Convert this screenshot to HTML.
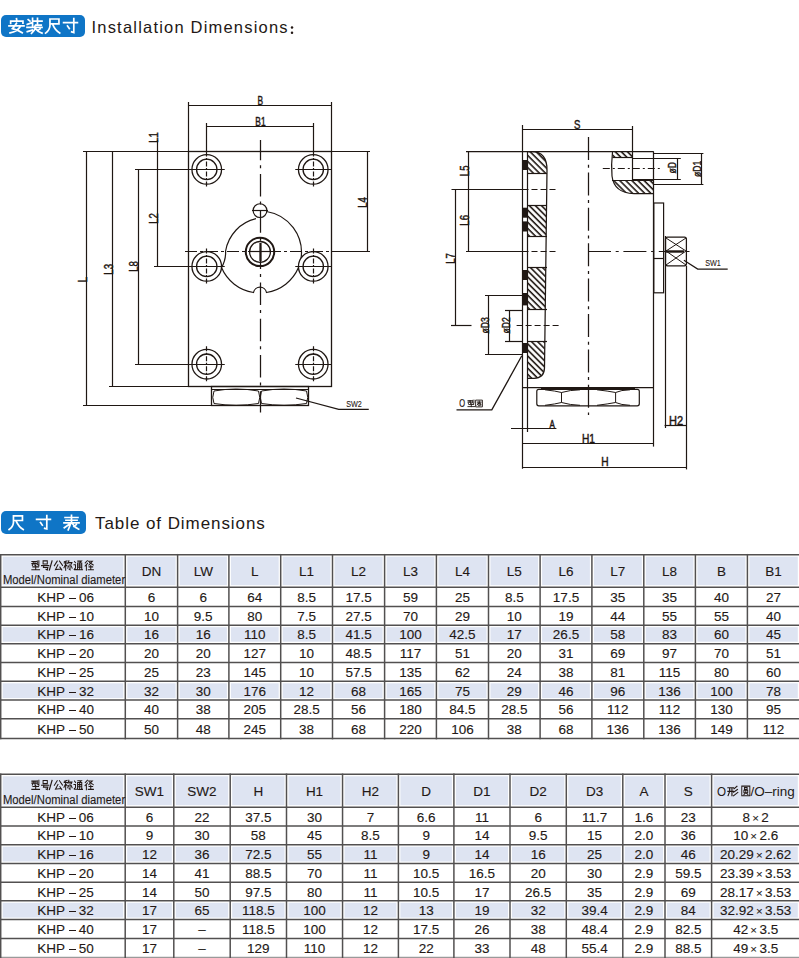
<!DOCTYPE html><html><head><meta charset="utf-8"><style>
html,body{margin:0;padding:0;background:#fff;width:799px;height:958px;overflow:hidden;position:relative}
body{font-family:"Liberation Sans",sans-serif;color:#231815;font-size:13.5px}
.tb{-webkit-text-stroke:0.12px #231815}
.tb div{white-space:nowrap}
</style></head><body>
<svg style="position:absolute;left:0;top:0" width="799" height="500" viewBox="0 0 799 500" stroke="#1f1713" fill="none">
<rect x="188.5" y="151.5" width="143" height="235" fill="none" stroke-width="1.3"/>
<line x1="83" y1="151.5" x2="188.75" y2="151.5" stroke-width="1.2"/>
<line x1="331" y1="151.5" x2="370" y2="151.5" stroke-width="1.2"/>
<line x1="86.5" y1="152" x2="86.5" y2="405.5" stroke-width="1.2"/>
<line x1="83" y1="405.5" x2="211.5" y2="405.5" stroke-width="1.2"/>
<line x1="112.5" y1="152" x2="112.5" y2="386.6" stroke-width="1.2"/>
<line x1="109" y1="386.5" x2="188.75" y2="386.5" stroke-width="1.2"/>
<line x1="138.5" y1="169.4" x2="138.5" y2="364.2" stroke-width="1.2"/>
<line x1="135" y1="169.5" x2="189" y2="169.5" stroke-width="1.2"/>
<line x1="135" y1="364.5" x2="189" y2="364.5" stroke-width="1.2"/>
<line x1="157.5" y1="140" x2="157.5" y2="266.5" stroke-width="1.2"/>
<line x1="154" y1="266.5" x2="189" y2="266.5" stroke-width="1.2"/>
<line x1="188.75" y1="105.5" x2="331" y2="105.5" stroke-width="1.2"/>
<line x1="188.5" y1="102" x2="188.5" y2="151.6" stroke-width="1.2"/>
<line x1="331.5" y1="102" x2="331.5" y2="151.6" stroke-width="1.2"/>
<line x1="206.75" y1="126.5" x2="313.25" y2="126.5" stroke-width="1.2"/>
<line x1="206.5" y1="123" x2="206.5" y2="152" stroke-width="1.2"/>
<line x1="313.5" y1="123" x2="313.5" y2="152" stroke-width="1.2"/>
<line x1="367.5" y1="152" x2="367.5" y2="251.5" stroke-width="1.2"/>
<line x1="331" y1="251.5" x2="370" y2="251.5" stroke-width="1.2"/>
<circle cx="206.75" cy="169.4" r="14.8" fill="none" stroke-width="1.3"/>
<circle cx="206.75" cy="169.4" r="10.2" fill="none" stroke-width="1.3"/>
<line x1="188.75" y1="169.5" x2="224.75" y2="169.5" stroke-width="1.2"/>
<line x1="206.5" y1="151.4" x2="206.5" y2="187.4" stroke-width="1.2" stroke-dasharray="5 1.5 2 1.5"/>
<circle cx="206.75" cy="266.4" r="14.8" fill="none" stroke-width="1.3"/>
<circle cx="206.75" cy="266.4" r="10.2" fill="none" stroke-width="1.3"/>
<line x1="188.75" y1="266.5" x2="224.75" y2="266.5" stroke-width="1.2"/>
<line x1="206.5" y1="248.39999999999998" x2="206.5" y2="284.4" stroke-width="1.2" stroke-dasharray="5 1.5 2 1.5"/>
<circle cx="206.75" cy="364.2" r="14.8" fill="none" stroke-width="1.3"/>
<circle cx="206.75" cy="364.2" r="10.2" fill="none" stroke-width="1.3"/>
<line x1="188.75" y1="364.5" x2="224.75" y2="364.5" stroke-width="1.2"/>
<line x1="206.5" y1="346.2" x2="206.5" y2="382.2" stroke-width="1.2" stroke-dasharray="5 1.5 2 1.5"/>
<circle cx="313.25" cy="169.4" r="14.8" fill="none" stroke-width="1.3"/>
<circle cx="313.25" cy="169.4" r="10.2" fill="none" stroke-width="1.3"/>
<line x1="295.25" y1="169.5" x2="331.25" y2="169.5" stroke-width="1.2"/>
<line x1="313.5" y1="151.4" x2="313.5" y2="187.4" stroke-width="1.2" stroke-dasharray="5 1.5 2 1.5"/>
<circle cx="313.25" cy="266.4" r="14.8" fill="none" stroke-width="1.3"/>
<circle cx="313.25" cy="266.4" r="10.2" fill="none" stroke-width="1.3"/>
<line x1="295.25" y1="266.5" x2="331.25" y2="266.5" stroke-width="1.2"/>
<line x1="313.5" y1="248.39999999999998" x2="313.5" y2="284.4" stroke-width="1.2" stroke-dasharray="5 1.5 2 1.5"/>
<circle cx="313.25" cy="364.2" r="14.8" fill="none" stroke-width="1.3"/>
<circle cx="313.25" cy="364.2" r="10.2" fill="none" stroke-width="1.3"/>
<line x1="295.25" y1="364.5" x2="331.25" y2="364.5" stroke-width="1.2"/>
<line x1="313.5" y1="346.2" x2="313.5" y2="382.2" stroke-width="1.2" stroke-dasharray="5 1.5 2 1.5"/>
<line x1="260.5" y1="140" x2="260.5" y2="412.5" stroke-width="1.25" stroke-dasharray="22.5 5 3 5.7" stroke-dashoffset="2.2"/>
<line x1="185" y1="251.5" x2="331" y2="251.5" stroke-width="1.2" stroke-dasharray="12 3 3 3"/>
<path d="M266.5 211.5 A41.5 41.5 0 0 1 301.1 258 M298.5 267.6 A41.5 41.5 0 0 1 266.5 292.5 A6.6 6.6 0 0 0 253.5 292.5 A41.5 41.5 0 0 1 221.5 267.6 Q226 260 225.6 251 A40 40 0 0 1 256 218.7" fill="none" stroke-width="1.2"/>
<circle cx="260" cy="210.6" r="6.9" fill="none" stroke-width="1.15"/>
<line x1="252" y1="210.5" x2="268" y2="210.5" stroke-width="1.2"/>
<circle cx="260" cy="251.9" r="14.2" fill="none" stroke-width="2.0"/>
<circle cx="260" cy="251.9" r="10.4" fill="none" stroke-width="1.3"/>
<line x1="260.5" y1="243" x2="260.5" y2="261" stroke-width="2.2"/>
<line x1="249" y1="251.5" x2="271" y2="251.5" stroke-width="1.2"/>
<rect x="211.5" y="386.5" width="97" height="19" fill="none" stroke-width="1.3"/>
<line x1="211.5" y1="389.5" x2="308.75" y2="389.5" stroke-width="1.2"/>
<path d="M214 391 Q236 387 258.5 391 Q261 397.5 258.5 403.5 Q236 407 214 403.5 Q211.5 397.5 214 391 Z M261.5 391 Q284 387 306.5 391 Q309 397.5 306.5 403.5 Q284 407 261.5 403.5 Q259 397.5 261.5 391 Z" fill="none" stroke-width="1.0"/>
<polyline points="296,398 338.75,409.25 368.75,409.25" fill="none" stroke-width="1.25"/>
<text x="0" y="0" font-size="8.5" font-family="Liberation Sans" fill="#1f1713" stroke="#1f1713" stroke-width="0.1" text-anchor="middle" transform="translate(354.0 407.31) scale(0.85 1)">SW2</text>
<text x="0" y="0" font-size="12" font-family="Liberation Sans" fill="#1f1713" stroke="#1f1713" stroke-width="0.45" text-anchor="middle" transform="translate(260.2 105.02000000000001) scale(0.7 1)">B</text>
<text x="0" y="0" font-size="12" font-family="Liberation Sans" fill="#1f1713" stroke="#1f1713" stroke-width="0.45" text-anchor="middle" transform="translate(260.45 125.82) scale(0.7 1)">B1</text>
<text x="0" y="0" font-size="12" font-family="Liberation Sans" fill="#1f1713" stroke="#1f1713" stroke-width="0.45" text-anchor="middle" transform="translate(158.32 137.5) rotate(-90) scale(0.8 1)">L1</text>
<text x="0" y="0" font-size="12" font-family="Liberation Sans" fill="#1f1713" stroke="#1f1713" stroke-width="0.45" text-anchor="middle" transform="translate(157.82 218.5) rotate(-90) scale(0.8 1)">L2</text>
<text x="0" y="0" font-size="12" font-family="Liberation Sans" fill="#1f1713" stroke="#1f1713" stroke-width="0.45" text-anchor="middle" transform="translate(112.82 269.3) rotate(-90) scale(0.8 1)">L3</text>
<text x="0" y="0" font-size="12" font-family="Liberation Sans" fill="#1f1713" stroke="#1f1713" stroke-width="0.45" text-anchor="middle" transform="translate(138.42 266.5) rotate(-90) scale(0.8 1)">L8</text>
<text x="0" y="0" font-size="12" font-family="Liberation Sans" fill="#1f1713" stroke="#1f1713" stroke-width="0.45" text-anchor="middle" transform="translate(86.72 279.5) rotate(-90) scale(0.8 1)">L</text>
<text x="0" y="0" font-size="12" font-family="Liberation Sans" fill="#1f1713" stroke="#1f1713" stroke-width="0.45" text-anchor="middle" transform="translate(367.07 202.5) rotate(-90) scale(0.8 1)">L4</text>
<line x1="522.8" y1="129.5" x2="632" y2="129.5" stroke-width="1.2"/>
<line x1="522.5" y1="125" x2="522.5" y2="152" stroke-width="1.2"/>
<line x1="632.5" y1="126" x2="632.5" y2="152" stroke-width="1.2"/>
<text x="0" y="0" font-size="12" font-family="Liberation Sans" fill="#1f1713" stroke="#1f1713" stroke-width="0.45" text-anchor="middle" transform="translate(577.25 128.97) scale(0.8 1)">S</text>
<line x1="466" y1="151.5" x2="653.8" y2="151.5" stroke-width="1.25"/>
<line x1="653.5" y1="151.7" x2="653.5" y2="387" stroke-width="1.25"/>
<line x1="522.5" y1="387.5" x2="653.8" y2="387.5" stroke-width="1.25"/>
<line x1="522.5" y1="151.7" x2="522.5" y2="468.7" stroke-width="1.2"/>
<line x1="527.5" y1="151.7" x2="527.5" y2="432" stroke-width="1.2"/>
<path d="M527 151.7 L532 151.7 Q547 152 547 170 L544.5 368 Q544 378.3 534 378.3 L527 378.3" fill="none" stroke-width="1.25"/>
<defs><pattern id="ht" patternUnits="userSpaceOnUse" width="4.3" height="4.3" patternTransform="rotate(-45)"><line x1="1" y1="-1" x2="1" y2="6" stroke="#1f1713" stroke-width="1.6"/></pattern><clipPath id="fl"><path d="M527 151.7 L532 151.7 Q547 152 547 170 L544.5 368 Q544 378.3 534 378.3 L527 378.3Z"/></clipPath></defs>
<rect x="527" y="151.7" width="21" height="22.100000000000023" fill="url(#ht)" stroke="none" clip-path="url(#fl)"/>
<line x1="527" y1="173.5" x2="547" y2="173.5" stroke-width="1.2"/>
<rect x="527" y="205" width="21" height="31.5" fill="url(#ht)" stroke="none" clip-path="url(#fl)"/>
<line x1="527" y1="205.5" x2="547" y2="205.5" stroke-width="1.2"/>
<line x1="527" y1="236.5" x2="547" y2="236.5" stroke-width="1.2"/>
<rect x="527" y="267" width="21" height="42.80000000000001" fill="url(#ht)" stroke="none" clip-path="url(#fl)"/>
<line x1="527" y1="267.5" x2="547" y2="267.5" stroke-width="1.2"/>
<line x1="527" y1="309.5" x2="547" y2="309.5" stroke-width="1.2"/>
<rect x="527" y="341.3" width="21" height="37.0" fill="url(#ht)" stroke="none" clip-path="url(#fl)"/>
<line x1="527" y1="341.5" x2="547" y2="341.5" stroke-width="1.2"/>
<rect x="522.5" y="160" width="4.5" height="10" fill="#1f1713" stroke="none"/>
<rect x="522.5" y="207.7" width="4.5" height="10.0" fill="#1f1713" stroke="none"/>
<rect x="522.5" y="221.4" width="4.5" height="10.099999999999994" fill="#1f1713" stroke="none"/>
<rect x="522.5" y="270" width="4.5" height="10" fill="#1f1713" stroke="none"/>
<rect x="522.5" y="293" width="4.5" height="12.399999999999977" fill="#1f1713" stroke="none"/>
<rect x="522.5" y="343" width="4.5" height="10" fill="#1f1713" stroke="none"/>
<line x1="468.5" y1="151.5" x2="468.5" y2="251.7" stroke-width="1.2"/>
<line x1="451.5" y1="189.5" x2="522.5" y2="189.5" stroke-width="1.2"/>
<line x1="466" y1="251.5" x2="522.5" y2="251.5" stroke-width="1.2"/>
<line x1="455.5" y1="189.5" x2="455.5" y2="325" stroke-width="1.2"/>
<line x1="451" y1="325.5" x2="471.5" y2="325.5" stroke-width="1.2"/>
<text x="0" y="0" font-size="12" font-family="Liberation Sans" fill="#1f1713" stroke="#1f1713" stroke-width="0.45" text-anchor="middle" transform="translate(469.36999999999995 170.8) rotate(-90) scale(0.8 1)">L5</text>
<text x="0" y="0" font-size="12" font-family="Liberation Sans" fill="#1f1713" stroke="#1f1713" stroke-width="0.45" text-anchor="middle" transform="translate(469.36999999999995 220.35) rotate(-90) scale(0.8 1)">L6</text>
<text x="0" y="0" font-size="12" font-family="Liberation Sans" fill="#1f1713" stroke="#1f1713" stroke-width="0.45" text-anchor="middle" transform="translate(454.96999999999997 258.5) rotate(-90) scale(0.8 1)">L7</text>
<line x1="522.5" y1="189.5" x2="557" y2="189.5" stroke-width="1.2" stroke-dasharray="6 3"/>
<line x1="522.5" y1="251.5" x2="558" y2="251.5" stroke-width="1.2" stroke-dasharray="6 3"/>
<line x1="588" y1="251.5" x2="692" y2="251.5" stroke-width="1.2" stroke-dasharray="23 4.7 3 4.7"/>
<line x1="516.6" y1="325.5" x2="560" y2="325.5" stroke-width="1.2" stroke-dasharray="6 3"/>
<line x1="588.5" y1="137" x2="588.5" y2="415" stroke-width="1.25" stroke-dasharray="23 4.7 3 4.7"/>
<line x1="488.5" y1="295.8" x2="488.5" y2="354.8" stroke-width="1.2"/>
<line x1="485" y1="295.5" x2="522.5" y2="295.5" stroke-width="1.2"/>
<line x1="485" y1="354.5" x2="522.5" y2="354.5" stroke-width="1.2"/>
<line x1="509.5" y1="310" x2="509.5" y2="341.3" stroke-width="1.2"/>
<line x1="505" y1="310.5" x2="522.5" y2="310.5" stroke-width="1.2"/>
<line x1="505" y1="341.5" x2="522.5" y2="341.5" stroke-width="1.2"/>
<text x="0" y="0" font-size="11.5" font-family="Liberation Sans" fill="#1f1713" stroke="#1f1713" stroke-width="0.45" text-anchor="middle" transform="translate(488.78999999999996 325.45000000000005) rotate(-90) scale(0.75 1)">&#248;D3</text>
<text x="0" y="0" font-size="11.5" font-family="Liberation Sans" fill="#1f1713" stroke="#1f1713" stroke-width="0.45" text-anchor="middle" transform="translate(509.64 325.45000000000005) rotate(-90) scale(0.75 1)">&#248;D2</text>
<polyline points="521.8,355.8 491.8,409.9 456.5,409.9" fill="none" stroke-width="1.3"/>
<text x="0" y="0" font-size="10" font-family="Liberation Sans" fill="#1f1713" stroke="#1f1713" stroke-width="0.2" text-anchor="middle" transform="translate(462.04999999999995 406.9) scale(0.75 1)">O</text>
<path transform="translate(467.5 399.8) scale(0.075 0.07400000000000001)" d="M6 12L56 12 M6 32L56 32 M22 12L22 32L12 50 M42 12L42 50 M68 8L68 40 M86 4L86 50L78 46 M18 64L82 64 M50 52L50 92 M6 92L94 92" fill="none" stroke="#1f1713" stroke-width="12.0" stroke-linecap="square" stroke-linejoin="miter"/>
<path transform="translate(475.5 399.8) scale(0.075 0.07400000000000001)" d="M8 4L92 4L92 96L8 96Z M24 30L76 30 M30 44L70 44 M50 16L50 44 M44 44L22 70 M56 44L78 70 M36 58L64 58L64 80L40 80" fill="none" stroke="#1f1713" stroke-width="12.0" stroke-linecap="square" stroke-linejoin="miter"/>
<defs><clipPath id="pt"><path d="M612.5 152 L653.8 152 L653.8 193.6 L634 193.6 Q612 193 612 172 Z"/></clipPath></defs>
<rect x="612" y="152" width="20" height="6" fill="url(#ht)" stroke="none" clip-path="url(#pt)"/>
<rect x="610" y="180" width="44" height="14" fill="url(#ht)" stroke="none" clip-path="url(#pt)"/>
<path d="M612.5 152 Q611 165 612 176 Q614 193 634 193.6 L653.8 193.6" fill="none" stroke-width="1.2"/>
<line x1="612.5" y1="157.5" x2="632" y2="157.5" stroke-width="1.2"/>
<line x1="612" y1="180.5" x2="653.8" y2="180.5" stroke-width="1.2"/>
<line x1="632.5" y1="152" x2="632.5" y2="180" stroke-width="1.2"/>
<line x1="632" y1="158.5" x2="680.8" y2="158.5" stroke-width="1.2"/>
<line x1="632" y1="179.5" x2="680.8" y2="179.5" stroke-width="1.2"/>
<line x1="653.8" y1="153.5" x2="703.4" y2="153.5" stroke-width="1.2"/>
<line x1="653.8" y1="184.5" x2="703.4" y2="184.5" stroke-width="1.2"/>
<line x1="677.5" y1="158.7" x2="677.5" y2="179.8" stroke-width="1.2"/>
<line x1="701.5" y1="153.3" x2="701.5" y2="184.3" stroke-width="1.2"/>
<line x1="602.8" y1="168.5" x2="659.8" y2="168.5" stroke-width="1.2" stroke-dasharray="7 3 2 3"/>
<text x="0" y="0" font-size="11.5" font-family="Liberation Sans" fill="#1f1713" stroke="#1f1713" stroke-width="0.45" text-anchor="middle" transform="translate(676.29 167.65) rotate(-90) scale(0.75 1)">&#248;D</text>
<text x="0" y="0" font-size="11.5" font-family="Liberation Sans" fill="#1f1713" stroke="#1f1713" stroke-width="0.45" text-anchor="middle" transform="translate(700.64 168.8) rotate(-90) scale(0.75 1)">&#248;D1</text>
<rect x="653.8" y="203" width="9.8" height="89.8" fill="none" stroke-width="1.2"/>
<line x1="653.8" y1="258.5" x2="663.6" y2="258.5" stroke-width="1.2"/>
<line x1="665.5" y1="236" x2="665.5" y2="428" stroke-width="1.2"/>
<rect x="665.5" y="237" width="20.9" height="28.8" rx="2" fill="none" stroke-width="1.25"/>
<polyline points="666,238 686,251" fill="none" stroke-width="1.0"/>
<polyline points="686,238 666,251" fill="none" stroke-width="1.0"/>
<polyline points="666,251 686,265" fill="none" stroke-width="1.0"/>
<polyline points="686,251 666,265" fill="none" stroke-width="1.0"/>
<line x1="666" y1="251.5" x2="684" y2="251.5" stroke-width="2.4"/>
<line x1="686.5" y1="265.8" x2="686.5" y2="469.4" stroke-width="1.2"/>
<polyline points="683.9,260.2 697.7,269 727.7,269" fill="none" stroke-width="1.25"/>
<text x="0" y="0" font-size="8.5" font-family="Liberation Sans" fill="#1f1713" stroke="#1f1713" stroke-width="0.1" text-anchor="middle" transform="translate(713.0 266.06) scale(0.85 1)">SW1</text>
<line x1="511" y1="428.5" x2="556.4" y2="428.5" stroke-width="1.2"/>
<text x="0" y="0" font-size="10" font-family="Liberation Sans" fill="#1f1713" stroke="#1f1713" stroke-width="0.45" text-anchor="middle" transform="translate(552.25 428.35) scale(0.8 1)">A</text>
<line x1="522.4" y1="443.5" x2="653.9" y2="443.5" stroke-width="1.2"/>
<line x1="653.5" y1="387" x2="653.5" y2="446.6" stroke-width="1.2"/>
<text x="0" y="0" font-size="12" font-family="Liberation Sans" fill="#1f1713" stroke="#1f1713" stroke-width="0.45" text-anchor="middle" transform="translate(588.5 442.67) scale(0.85 1)">H1</text>
<line x1="522.4" y1="467.5" x2="686.4" y2="467.5" stroke-width="1.2"/>
<text x="0" y="0" font-size="12" font-family="Liberation Sans" fill="#1f1713" stroke="#1f1713" stroke-width="0.45" text-anchor="middle" transform="translate(605.0 466.07) scale(0.85 1)">H</text>
<line x1="664.6" y1="425.5" x2="686.4" y2="425.5" stroke-width="1.2"/>
<text x="0" y="0" font-size="12" font-family="Liberation Sans" fill="#1f1713" stroke="#1f1713" stroke-width="0.45" text-anchor="middle" transform="translate(676.15 424.61999999999995) scale(0.92 1)">H2</text>
<rect x="536.8" y="389.3" width="102.5" height="16.5" rx="2" fill="none" stroke-width="1.2"/>
<line x1="541" y1="388.5" x2="635" y2="388.5" stroke-width="1.2"/>
<path d="M545 389.8 Q556 391 561.5 392.5 Q570 390 580 389.8 M545 405.3 Q556 404 561.5 402.5 Q570 405 580 405.3 M561.5 392.5 L561.5 402.5 M597 389.8 Q608 391 615.6 392.5 Q621 390 630 389.8 M597 405.3 Q608 404 615.6 402.5 Q621 405 630 405.3 M615.6 392.5 L615.6 402.5" fill="none" stroke-width="1.0"/>
</svg>
<div class="tb">
<svg style="position:absolute;left:0;top:0" width="799" height="958" viewBox="0 0 799 958">
<rect x="2.70" y="556.70" width="120.60" height="28.50" fill="#dee4f2"/>
<rect x="127.30" y="556.70" width="48.30" height="28.50" fill="#dee4f2"/>
<rect x="179.60" y="556.70" width="47.30" height="28.50" fill="#dee4f2"/>
<rect x="230.90" y="556.70" width="47.80" height="28.50" fill="#dee4f2"/>
<rect x="282.70" y="556.70" width="47.80" height="28.50" fill="#dee4f2"/>
<rect x="334.50" y="556.70" width="48.10" height="28.50" fill="#dee4f2"/>
<rect x="386.60" y="556.70" width="47.80" height="28.50" fill="#dee4f2"/>
<rect x="438.40" y="556.70" width="48.10" height="28.50" fill="#dee4f2"/>
<rect x="490.50" y="556.70" width="47.60" height="28.50" fill="#dee4f2"/>
<rect x="542.10" y="556.70" width="47.80" height="28.50" fill="#dee4f2"/>
<rect x="593.90" y="556.70" width="47.90" height="28.50" fill="#dee4f2"/>
<rect x="645.80" y="556.70" width="47.60" height="28.50" fill="#dee4f2"/>
<rect x="697.40" y="556.70" width="48.00" height="28.50" fill="#dee4f2"/>
<rect x="749.40" y="556.70" width="48.40" height="28.50" fill="#dee4f2"/>
<rect x="2.70" y="627.20" width="120.60" height="14.50" fill="#dee4f2"/>
<rect x="127.30" y="627.20" width="48.30" height="14.50" fill="#dee4f2"/>
<rect x="179.60" y="627.20" width="47.30" height="14.50" fill="#dee4f2"/>
<rect x="230.90" y="627.20" width="47.80" height="14.50" fill="#dee4f2"/>
<rect x="282.70" y="627.20" width="47.80" height="14.50" fill="#dee4f2"/>
<rect x="334.50" y="627.20" width="48.10" height="14.50" fill="#dee4f2"/>
<rect x="386.60" y="627.20" width="47.80" height="14.50" fill="#dee4f2"/>
<rect x="438.40" y="627.20" width="48.10" height="14.50" fill="#dee4f2"/>
<rect x="490.50" y="627.20" width="47.60" height="14.50" fill="#dee4f2"/>
<rect x="542.10" y="627.20" width="47.80" height="14.50" fill="#dee4f2"/>
<rect x="593.90" y="627.20" width="47.90" height="14.50" fill="#dee4f2"/>
<rect x="645.80" y="627.20" width="47.60" height="14.50" fill="#dee4f2"/>
<rect x="697.40" y="627.20" width="48.00" height="14.50" fill="#dee4f2"/>
<rect x="749.40" y="627.20" width="48.40" height="14.50" fill="#dee4f2"/>
<rect x="2.70" y="683.30" width="120.60" height="14.76" fill="#dee4f2"/>
<rect x="127.30" y="683.30" width="48.30" height="14.76" fill="#dee4f2"/>
<rect x="179.60" y="683.30" width="47.30" height="14.76" fill="#dee4f2"/>
<rect x="230.90" y="683.30" width="47.80" height="14.76" fill="#dee4f2"/>
<rect x="282.70" y="683.30" width="47.80" height="14.76" fill="#dee4f2"/>
<rect x="334.50" y="683.30" width="48.10" height="14.76" fill="#dee4f2"/>
<rect x="386.60" y="683.30" width="47.80" height="14.76" fill="#dee4f2"/>
<rect x="438.40" y="683.30" width="48.10" height="14.76" fill="#dee4f2"/>
<rect x="490.50" y="683.30" width="47.60" height="14.76" fill="#dee4f2"/>
<rect x="542.10" y="683.30" width="47.80" height="14.76" fill="#dee4f2"/>
<rect x="593.90" y="683.30" width="47.90" height="14.76" fill="#dee4f2"/>
<rect x="645.80" y="683.30" width="47.60" height="14.76" fill="#dee4f2"/>
<rect x="697.40" y="683.30" width="48.00" height="14.76" fill="#dee4f2"/>
<rect x="749.40" y="683.30" width="48.40" height="14.76" fill="#dee4f2"/>
<line x1="0" y1="554.7" x2="799" y2="554.7" stroke="#525050" stroke-width="1.5"/>
<line x1="0" y1="587.2" x2="799" y2="587.2" stroke="#525050" stroke-width="1.5"/>
<line x1="0" y1="606.4" x2="799" y2="606.4" stroke="#525050" stroke-width="1.5"/>
<line x1="0" y1="625.2" x2="799" y2="625.2" stroke="#525050" stroke-width="1.5"/>
<line x1="0" y1="643.7" x2="799" y2="643.7" stroke="#525050" stroke-width="1.5"/>
<line x1="0" y1="662.5" x2="799" y2="662.5" stroke="#525050" stroke-width="1.5"/>
<line x1="0" y1="681.3" x2="799" y2="681.3" stroke="#525050" stroke-width="1.5"/>
<line x1="0" y1="700.06" x2="799" y2="700.06" stroke="#525050" stroke-width="1.5"/>
<line x1="0" y1="718.7" x2="799" y2="718.7" stroke="#525050" stroke-width="1.5"/>
<line x1="0" y1="738.6" x2="799" y2="738.6" stroke="#525050" stroke-width="1.5"/>
<line x1="0.7" y1="553.95" x2="0.7" y2="739.35" stroke="#525050" stroke-width="1.5"/>
<line x1="125.3" y1="553.95" x2="125.3" y2="739.35" stroke="#525050" stroke-width="1.5"/>
<line x1="177.6" y1="553.95" x2="177.6" y2="739.35" stroke="#525050" stroke-width="1.5"/>
<line x1="228.9" y1="553.95" x2="228.9" y2="739.35" stroke="#525050" stroke-width="1.5"/>
<line x1="280.7" y1="553.95" x2="280.7" y2="739.35" stroke="#525050" stroke-width="1.5"/>
<line x1="332.5" y1="553.95" x2="332.5" y2="739.35" stroke="#525050" stroke-width="1.5"/>
<line x1="384.6" y1="553.95" x2="384.6" y2="739.35" stroke="#525050" stroke-width="1.5"/>
<line x1="436.4" y1="553.95" x2="436.4" y2="739.35" stroke="#525050" stroke-width="1.5"/>
<line x1="488.5" y1="553.95" x2="488.5" y2="739.35" stroke="#525050" stroke-width="1.5"/>
<line x1="540.1" y1="553.95" x2="540.1" y2="739.35" stroke="#525050" stroke-width="1.5"/>
<line x1="591.9" y1="553.95" x2="591.9" y2="739.35" stroke="#525050" stroke-width="1.5"/>
<line x1="643.8" y1="553.95" x2="643.8" y2="739.35" stroke="#525050" stroke-width="1.5"/>
<line x1="695.4" y1="553.95" x2="695.4" y2="739.35" stroke="#525050" stroke-width="1.5"/>
<line x1="747.4" y1="553.95" x2="747.4" y2="739.35" stroke="#525050" stroke-width="1.5"/>
<line x1="799.8" y1="553.95" x2="799.8" y2="739.35" stroke="#525050" stroke-width="1.5"/>
</svg>
<div style="position:absolute;left:106.45px;top:562px;width:90px;height:20px;line-height:20px;text-align:center;">DN</div>
<div style="position:absolute;left:158.25px;top:562px;width:90px;height:20px;line-height:20px;text-align:center;">LW</div>
<div style="position:absolute;left:209.80px;top:562px;width:90px;height:20px;line-height:20px;text-align:center;">L</div>
<div style="position:absolute;left:261.60px;top:562px;width:90px;height:20px;line-height:20px;text-align:center;">L1</div>
<div style="position:absolute;left:313.55px;top:562px;width:90px;height:20px;line-height:20px;text-align:center;">L2</div>
<div style="position:absolute;left:365.50px;top:562px;width:90px;height:20px;line-height:20px;text-align:center;">L3</div>
<div style="position:absolute;left:417.45px;top:562px;width:90px;height:20px;line-height:20px;text-align:center;">L4</div>
<div style="position:absolute;left:469.30px;top:562px;width:90px;height:20px;line-height:20px;text-align:center;">L5</div>
<div style="position:absolute;left:521.00px;top:562px;width:90px;height:20px;line-height:20px;text-align:center;">L6</div>
<div style="position:absolute;left:572.85px;top:562px;width:90px;height:20px;line-height:20px;text-align:center;">L7</div>
<div style="position:absolute;left:624.60px;top:562px;width:90px;height:20px;line-height:20px;text-align:center;">L8</div>
<div style="position:absolute;left:676.40px;top:562px;width:90px;height:20px;line-height:20px;text-align:center;">B</div>
<div style="position:absolute;left:728.60px;top:562px;width:90px;height:20px;line-height:20px;text-align:center;">B1</div>
<div style="position:absolute;left:20.60px;top:588px;width:90px;height:20px;line-height:20px;text-align:center;">KHP<span style="display:inline-block;width:6.8px;height:1.5px;background:currentColor;vertical-align:3px;margin:0 3.0px 0 4.1px"></span>06</div>
<div style="position:absolute;left:106.45px;top:588px;width:90px;height:20px;line-height:20px;text-align:center;">6</div>
<div style="position:absolute;left:158.25px;top:588px;width:90px;height:20px;line-height:20px;text-align:center;">6</div>
<div style="position:absolute;left:209.80px;top:588px;width:90px;height:20px;line-height:20px;text-align:center;">64</div>
<div style="position:absolute;left:261.60px;top:588px;width:90px;height:20px;line-height:20px;text-align:center;">8.5</div>
<div style="position:absolute;left:313.55px;top:588px;width:90px;height:20px;line-height:20px;text-align:center;">17.5</div>
<div style="position:absolute;left:365.50px;top:588px;width:90px;height:20px;line-height:20px;text-align:center;">59</div>
<div style="position:absolute;left:417.45px;top:588px;width:90px;height:20px;line-height:20px;text-align:center;">25</div>
<div style="position:absolute;left:469.30px;top:588px;width:90px;height:20px;line-height:20px;text-align:center;">8.5</div>
<div style="position:absolute;left:521.00px;top:588px;width:90px;height:20px;line-height:20px;text-align:center;">17.5</div>
<div style="position:absolute;left:572.85px;top:588px;width:90px;height:20px;line-height:20px;text-align:center;">35</div>
<div style="position:absolute;left:624.60px;top:588px;width:90px;height:20px;line-height:20px;text-align:center;">35</div>
<div style="position:absolute;left:676.40px;top:588px;width:90px;height:20px;line-height:20px;text-align:center;">40</div>
<div style="position:absolute;left:728.60px;top:588px;width:90px;height:20px;line-height:20px;text-align:center;">27</div>
<div style="position:absolute;left:20.60px;top:607px;width:90px;height:20px;line-height:20px;text-align:center;">KHP<span style="display:inline-block;width:6.8px;height:1.5px;background:currentColor;vertical-align:3px;margin:0 3.0px 0 4.1px"></span>10</div>
<div style="position:absolute;left:106.45px;top:607px;width:90px;height:20px;line-height:20px;text-align:center;">10</div>
<div style="position:absolute;left:158.25px;top:607px;width:90px;height:20px;line-height:20px;text-align:center;">9.5</div>
<div style="position:absolute;left:209.80px;top:607px;width:90px;height:20px;line-height:20px;text-align:center;">80</div>
<div style="position:absolute;left:261.60px;top:607px;width:90px;height:20px;line-height:20px;text-align:center;">7.5</div>
<div style="position:absolute;left:313.55px;top:607px;width:90px;height:20px;line-height:20px;text-align:center;">27.5</div>
<div style="position:absolute;left:365.50px;top:607px;width:90px;height:20px;line-height:20px;text-align:center;">70</div>
<div style="position:absolute;left:417.45px;top:607px;width:90px;height:20px;line-height:20px;text-align:center;">29</div>
<div style="position:absolute;left:469.30px;top:607px;width:90px;height:20px;line-height:20px;text-align:center;">10</div>
<div style="position:absolute;left:521.00px;top:607px;width:90px;height:20px;line-height:20px;text-align:center;">19</div>
<div style="position:absolute;left:572.85px;top:607px;width:90px;height:20px;line-height:20px;text-align:center;">44</div>
<div style="position:absolute;left:624.60px;top:607px;width:90px;height:20px;line-height:20px;text-align:center;">55</div>
<div style="position:absolute;left:676.40px;top:607px;width:90px;height:20px;line-height:20px;text-align:center;">55</div>
<div style="position:absolute;left:728.60px;top:607px;width:90px;height:20px;line-height:20px;text-align:center;">40</div>
<div style="position:absolute;left:20.60px;top:625px;width:90px;height:20px;line-height:20px;text-align:center;">KHP<span style="display:inline-block;width:6.8px;height:1.5px;background:currentColor;vertical-align:3px;margin:0 3.0px 0 4.1px"></span>16</div>
<div style="position:absolute;left:106.45px;top:625px;width:90px;height:20px;line-height:20px;text-align:center;">16</div>
<div style="position:absolute;left:158.25px;top:625px;width:90px;height:20px;line-height:20px;text-align:center;">16</div>
<div style="position:absolute;left:209.80px;top:625px;width:90px;height:20px;line-height:20px;text-align:center;">110</div>
<div style="position:absolute;left:261.60px;top:625px;width:90px;height:20px;line-height:20px;text-align:center;">8.5</div>
<div style="position:absolute;left:313.55px;top:625px;width:90px;height:20px;line-height:20px;text-align:center;">41.5</div>
<div style="position:absolute;left:365.50px;top:625px;width:90px;height:20px;line-height:20px;text-align:center;">100</div>
<div style="position:absolute;left:417.45px;top:625px;width:90px;height:20px;line-height:20px;text-align:center;">42.5</div>
<div style="position:absolute;left:469.30px;top:625px;width:90px;height:20px;line-height:20px;text-align:center;">17</div>
<div style="position:absolute;left:521.00px;top:625px;width:90px;height:20px;line-height:20px;text-align:center;">26.5</div>
<div style="position:absolute;left:572.85px;top:625px;width:90px;height:20px;line-height:20px;text-align:center;">58</div>
<div style="position:absolute;left:624.60px;top:625px;width:90px;height:20px;line-height:20px;text-align:center;">83</div>
<div style="position:absolute;left:676.40px;top:625px;width:90px;height:20px;line-height:20px;text-align:center;">60</div>
<div style="position:absolute;left:728.60px;top:625px;width:90px;height:20px;line-height:20px;text-align:center;">45</div>
<div style="position:absolute;left:20.60px;top:644px;width:90px;height:20px;line-height:20px;text-align:center;">KHP<span style="display:inline-block;width:6.8px;height:1.5px;background:currentColor;vertical-align:3px;margin:0 3.0px 0 4.1px"></span>20</div>
<div style="position:absolute;left:106.45px;top:644px;width:90px;height:20px;line-height:20px;text-align:center;">20</div>
<div style="position:absolute;left:158.25px;top:644px;width:90px;height:20px;line-height:20px;text-align:center;">20</div>
<div style="position:absolute;left:209.80px;top:644px;width:90px;height:20px;line-height:20px;text-align:center;">127</div>
<div style="position:absolute;left:261.60px;top:644px;width:90px;height:20px;line-height:20px;text-align:center;">10</div>
<div style="position:absolute;left:313.55px;top:644px;width:90px;height:20px;line-height:20px;text-align:center;">48.5</div>
<div style="position:absolute;left:365.50px;top:644px;width:90px;height:20px;line-height:20px;text-align:center;">117</div>
<div style="position:absolute;left:417.45px;top:644px;width:90px;height:20px;line-height:20px;text-align:center;">51</div>
<div style="position:absolute;left:469.30px;top:644px;width:90px;height:20px;line-height:20px;text-align:center;">20</div>
<div style="position:absolute;left:521.00px;top:644px;width:90px;height:20px;line-height:20px;text-align:center;">31</div>
<div style="position:absolute;left:572.85px;top:644px;width:90px;height:20px;line-height:20px;text-align:center;">69</div>
<div style="position:absolute;left:624.60px;top:644px;width:90px;height:20px;line-height:20px;text-align:center;">97</div>
<div style="position:absolute;left:676.40px;top:644px;width:90px;height:20px;line-height:20px;text-align:center;">70</div>
<div style="position:absolute;left:728.60px;top:644px;width:90px;height:20px;line-height:20px;text-align:center;">51</div>
<div style="position:absolute;left:20.60px;top:663px;width:90px;height:20px;line-height:20px;text-align:center;">KHP<span style="display:inline-block;width:6.8px;height:1.5px;background:currentColor;vertical-align:3px;margin:0 3.0px 0 4.1px"></span>25</div>
<div style="position:absolute;left:106.45px;top:663px;width:90px;height:20px;line-height:20px;text-align:center;">25</div>
<div style="position:absolute;left:158.25px;top:663px;width:90px;height:20px;line-height:20px;text-align:center;">23</div>
<div style="position:absolute;left:209.80px;top:663px;width:90px;height:20px;line-height:20px;text-align:center;">145</div>
<div style="position:absolute;left:261.60px;top:663px;width:90px;height:20px;line-height:20px;text-align:center;">10</div>
<div style="position:absolute;left:313.55px;top:663px;width:90px;height:20px;line-height:20px;text-align:center;">57.5</div>
<div style="position:absolute;left:365.50px;top:663px;width:90px;height:20px;line-height:20px;text-align:center;">135</div>
<div style="position:absolute;left:417.45px;top:663px;width:90px;height:20px;line-height:20px;text-align:center;">62</div>
<div style="position:absolute;left:469.30px;top:663px;width:90px;height:20px;line-height:20px;text-align:center;">24</div>
<div style="position:absolute;left:521.00px;top:663px;width:90px;height:20px;line-height:20px;text-align:center;">38</div>
<div style="position:absolute;left:572.85px;top:663px;width:90px;height:20px;line-height:20px;text-align:center;">81</div>
<div style="position:absolute;left:624.60px;top:663px;width:90px;height:20px;line-height:20px;text-align:center;">115</div>
<div style="position:absolute;left:676.40px;top:663px;width:90px;height:20px;line-height:20px;text-align:center;">80</div>
<div style="position:absolute;left:728.60px;top:663px;width:90px;height:20px;line-height:20px;text-align:center;">60</div>
<div style="position:absolute;left:20.60px;top:682px;width:90px;height:20px;line-height:20px;text-align:center;">KHP<span style="display:inline-block;width:6.8px;height:1.5px;background:currentColor;vertical-align:3px;margin:0 3.0px 0 4.1px"></span>32</div>
<div style="position:absolute;left:106.45px;top:682px;width:90px;height:20px;line-height:20px;text-align:center;">32</div>
<div style="position:absolute;left:158.25px;top:682px;width:90px;height:20px;line-height:20px;text-align:center;">30</div>
<div style="position:absolute;left:209.80px;top:682px;width:90px;height:20px;line-height:20px;text-align:center;">176</div>
<div style="position:absolute;left:261.60px;top:682px;width:90px;height:20px;line-height:20px;text-align:center;">12</div>
<div style="position:absolute;left:313.55px;top:682px;width:90px;height:20px;line-height:20px;text-align:center;">68</div>
<div style="position:absolute;left:365.50px;top:682px;width:90px;height:20px;line-height:20px;text-align:center;">165</div>
<div style="position:absolute;left:417.45px;top:682px;width:90px;height:20px;line-height:20px;text-align:center;">75</div>
<div style="position:absolute;left:469.30px;top:682px;width:90px;height:20px;line-height:20px;text-align:center;">29</div>
<div style="position:absolute;left:521.00px;top:682px;width:90px;height:20px;line-height:20px;text-align:center;">46</div>
<div style="position:absolute;left:572.85px;top:682px;width:90px;height:20px;line-height:20px;text-align:center;">96</div>
<div style="position:absolute;left:624.60px;top:682px;width:90px;height:20px;line-height:20px;text-align:center;">136</div>
<div style="position:absolute;left:676.40px;top:682px;width:90px;height:20px;line-height:20px;text-align:center;">100</div>
<div style="position:absolute;left:728.60px;top:682px;width:90px;height:20px;line-height:20px;text-align:center;">78</div>
<div style="position:absolute;left:20.60px;top:700px;width:90px;height:20px;line-height:20px;text-align:center;">KHP<span style="display:inline-block;width:6.8px;height:1.5px;background:currentColor;vertical-align:3px;margin:0 3.0px 0 4.1px"></span>40</div>
<div style="position:absolute;left:106.45px;top:700px;width:90px;height:20px;line-height:20px;text-align:center;">40</div>
<div style="position:absolute;left:158.25px;top:700px;width:90px;height:20px;line-height:20px;text-align:center;">38</div>
<div style="position:absolute;left:209.80px;top:700px;width:90px;height:20px;line-height:20px;text-align:center;">205</div>
<div style="position:absolute;left:261.60px;top:700px;width:90px;height:20px;line-height:20px;text-align:center;">28.5</div>
<div style="position:absolute;left:313.55px;top:700px;width:90px;height:20px;line-height:20px;text-align:center;">56</div>
<div style="position:absolute;left:365.50px;top:700px;width:90px;height:20px;line-height:20px;text-align:center;">180</div>
<div style="position:absolute;left:417.45px;top:700px;width:90px;height:20px;line-height:20px;text-align:center;">84.5</div>
<div style="position:absolute;left:469.30px;top:700px;width:90px;height:20px;line-height:20px;text-align:center;">28.5</div>
<div style="position:absolute;left:521.00px;top:700px;width:90px;height:20px;line-height:20px;text-align:center;">56</div>
<div style="position:absolute;left:572.85px;top:700px;width:90px;height:20px;line-height:20px;text-align:center;">112</div>
<div style="position:absolute;left:624.60px;top:700px;width:90px;height:20px;line-height:20px;text-align:center;">112</div>
<div style="position:absolute;left:676.40px;top:700px;width:90px;height:20px;line-height:20px;text-align:center;">130</div>
<div style="position:absolute;left:728.60px;top:700px;width:90px;height:20px;line-height:20px;text-align:center;">95</div>
<div style="position:absolute;left:20.60px;top:720px;width:90px;height:20px;line-height:20px;text-align:center;">KHP<span style="display:inline-block;width:6.8px;height:1.5px;background:currentColor;vertical-align:3px;margin:0 3.0px 0 4.1px"></span>50</div>
<div style="position:absolute;left:106.45px;top:720px;width:90px;height:20px;line-height:20px;text-align:center;">50</div>
<div style="position:absolute;left:158.25px;top:720px;width:90px;height:20px;line-height:20px;text-align:center;">48</div>
<div style="position:absolute;left:209.80px;top:720px;width:90px;height:20px;line-height:20px;text-align:center;">245</div>
<div style="position:absolute;left:261.60px;top:720px;width:90px;height:20px;line-height:20px;text-align:center;">38</div>
<div style="position:absolute;left:313.55px;top:720px;width:90px;height:20px;line-height:20px;text-align:center;">68</div>
<div style="position:absolute;left:365.50px;top:720px;width:90px;height:20px;line-height:20px;text-align:center;">220</div>
<div style="position:absolute;left:417.45px;top:720px;width:90px;height:20px;line-height:20px;text-align:center;">106</div>
<div style="position:absolute;left:469.30px;top:720px;width:90px;height:20px;line-height:20px;text-align:center;">38</div>
<div style="position:absolute;left:521.00px;top:720px;width:90px;height:20px;line-height:20px;text-align:center;">68</div>
<div style="position:absolute;left:572.85px;top:720px;width:90px;height:20px;line-height:20px;text-align:center;">136</div>
<div style="position:absolute;left:624.60px;top:720px;width:90px;height:20px;line-height:20px;text-align:center;">136</div>
<div style="position:absolute;left:676.40px;top:720px;width:90px;height:20px;line-height:20px;text-align:center;">149</div>
<div style="position:absolute;left:728.60px;top:720px;width:90px;height:20px;line-height:20px;text-align:center;">112</div>
<svg style="position:absolute;left:0;top:0" width="799" height="958" viewBox="0 0 799 958">
<rect x="2.70" y="776.30" width="120.50" height="28.90" fill="#dee4f2"/>
<rect x="127.20" y="776.30" width="44.60" height="28.90" fill="#dee4f2"/>
<rect x="175.80" y="776.30" width="52.40" height="28.90" fill="#dee4f2"/>
<rect x="232.20" y="776.30" width="52.30" height="28.90" fill="#dee4f2"/>
<rect x="288.50" y="776.30" width="52.05" height="28.90" fill="#dee4f2"/>
<rect x="344.55" y="776.30" width="51.85" height="28.90" fill="#dee4f2"/>
<rect x="400.40" y="776.30" width="51.50" height="28.90" fill="#dee4f2"/>
<rect x="455.90" y="776.30" width="52.10" height="28.90" fill="#dee4f2"/>
<rect x="512.00" y="776.30" width="52.30" height="28.90" fill="#dee4f2"/>
<rect x="568.30" y="776.30" width="52.50" height="28.90" fill="#dee4f2"/>
<rect x="624.80" y="776.30" width="38.20" height="28.90" fill="#dee4f2"/>
<rect x="667.00" y="776.30" width="42.60" height="28.90" fill="#dee4f2"/>
<rect x="713.60" y="776.30" width="84.20" height="28.90" fill="#dee4f2"/>
<rect x="2.70" y="846.70" width="120.50" height="14.80" fill="#dee4f2"/>
<rect x="127.20" y="846.70" width="44.60" height="14.80" fill="#dee4f2"/>
<rect x="175.80" y="846.70" width="52.40" height="14.80" fill="#dee4f2"/>
<rect x="232.20" y="846.70" width="52.30" height="14.80" fill="#dee4f2"/>
<rect x="288.50" y="846.70" width="52.05" height="14.80" fill="#dee4f2"/>
<rect x="344.55" y="846.70" width="51.85" height="14.80" fill="#dee4f2"/>
<rect x="400.40" y="846.70" width="51.50" height="14.80" fill="#dee4f2"/>
<rect x="455.90" y="846.70" width="52.10" height="14.80" fill="#dee4f2"/>
<rect x="512.00" y="846.70" width="52.30" height="14.80" fill="#dee4f2"/>
<rect x="568.30" y="846.70" width="52.50" height="14.80" fill="#dee4f2"/>
<rect x="624.80" y="846.70" width="38.20" height="14.80" fill="#dee4f2"/>
<rect x="667.00" y="846.70" width="42.60" height="14.80" fill="#dee4f2"/>
<rect x="713.60" y="846.70" width="84.20" height="14.80" fill="#dee4f2"/>
<rect x="2.70" y="902.80" width="120.50" height="14.80" fill="#dee4f2"/>
<rect x="127.20" y="902.80" width="44.60" height="14.80" fill="#dee4f2"/>
<rect x="175.80" y="902.80" width="52.40" height="14.80" fill="#dee4f2"/>
<rect x="232.20" y="902.80" width="52.30" height="14.80" fill="#dee4f2"/>
<rect x="288.50" y="902.80" width="52.05" height="14.80" fill="#dee4f2"/>
<rect x="344.55" y="902.80" width="51.85" height="14.80" fill="#dee4f2"/>
<rect x="400.40" y="902.80" width="51.50" height="14.80" fill="#dee4f2"/>
<rect x="455.90" y="902.80" width="52.10" height="14.80" fill="#dee4f2"/>
<rect x="512.00" y="902.80" width="52.30" height="14.80" fill="#dee4f2"/>
<rect x="568.30" y="902.80" width="52.50" height="14.80" fill="#dee4f2"/>
<rect x="624.80" y="902.80" width="38.20" height="14.80" fill="#dee4f2"/>
<rect x="667.00" y="902.80" width="42.60" height="14.80" fill="#dee4f2"/>
<rect x="713.60" y="902.80" width="84.20" height="14.80" fill="#dee4f2"/>
<line x1="0" y1="774.3" x2="799" y2="774.3" stroke="#525050" stroke-width="1.5"/>
<line x1="0" y1="807.2" x2="799" y2="807.2" stroke="#525050" stroke-width="1.5"/>
<line x1="0" y1="825.9" x2="799" y2="825.9" stroke="#525050" stroke-width="1.5"/>
<line x1="0" y1="844.7" x2="799" y2="844.7" stroke="#525050" stroke-width="1.5"/>
<line x1="0" y1="863.5" x2="799" y2="863.5" stroke="#525050" stroke-width="1.5"/>
<line x1="0" y1="882.3" x2="799" y2="882.3" stroke="#525050" stroke-width="1.5"/>
<line x1="0" y1="900.8" x2="799" y2="900.8" stroke="#525050" stroke-width="1.5"/>
<line x1="0" y1="919.6" x2="799" y2="919.6" stroke="#525050" stroke-width="1.5"/>
<line x1="0" y1="938.4" x2="799" y2="938.4" stroke="#525050" stroke-width="1.5"/>
<line x1="0" y1="957.6" x2="799" y2="957.6" stroke="#9a9a9a" stroke-width="1.5"/>
<line x1="0.7" y1="773.55" x2="0.7" y2="958.35" stroke="#525050" stroke-width="1.5"/>
<line x1="125.2" y1="773.55" x2="125.2" y2="958.35" stroke="#525050" stroke-width="1.5"/>
<line x1="173.8" y1="773.55" x2="173.8" y2="958.35" stroke="#525050" stroke-width="1.5"/>
<line x1="230.2" y1="773.55" x2="230.2" y2="958.35" stroke="#525050" stroke-width="1.5"/>
<line x1="286.5" y1="773.55" x2="286.5" y2="958.35" stroke="#525050" stroke-width="1.5"/>
<line x1="342.55" y1="773.55" x2="342.55" y2="958.35" stroke="#525050" stroke-width="1.5"/>
<line x1="398.4" y1="773.55" x2="398.4" y2="958.35" stroke="#525050" stroke-width="1.5"/>
<line x1="453.9" y1="773.55" x2="453.9" y2="958.35" stroke="#525050" stroke-width="1.5"/>
<line x1="510" y1="773.55" x2="510" y2="958.35" stroke="#525050" stroke-width="1.5"/>
<line x1="566.3" y1="773.55" x2="566.3" y2="958.35" stroke="#525050" stroke-width="1.5"/>
<line x1="622.8" y1="773.55" x2="622.8" y2="958.35" stroke="#525050" stroke-width="1.5"/>
<line x1="665" y1="773.55" x2="665" y2="958.35" stroke="#525050" stroke-width="1.5"/>
<line x1="711.6" y1="773.55" x2="711.6" y2="958.35" stroke="#525050" stroke-width="1.5"/>
<line x1="799.8" y1="773.55" x2="799.8" y2="958.35" stroke="#525050" stroke-width="1.5"/>
</svg>
<div style="position:absolute;left:104.50px;top:782px;width:90px;height:20px;line-height:20px;text-align:center;">SW1</div>
<div style="position:absolute;left:157.00px;top:782px;width:90px;height:20px;line-height:20px;text-align:center;">SW2</div>
<div style="position:absolute;left:213.35px;top:782px;width:90px;height:20px;line-height:20px;text-align:center;">H</div>
<div style="position:absolute;left:269.52px;top:782px;width:90px;height:20px;line-height:20px;text-align:center;">H1</div>
<div style="position:absolute;left:325.48px;top:782px;width:90px;height:20px;line-height:20px;text-align:center;">H2</div>
<div style="position:absolute;left:381.15px;top:782px;width:90px;height:20px;line-height:20px;text-align:center;">D</div>
<div style="position:absolute;left:436.95px;top:782px;width:90px;height:20px;line-height:20px;text-align:center;">D1</div>
<div style="position:absolute;left:493.15px;top:782px;width:90px;height:20px;line-height:20px;text-align:center;">D2</div>
<div style="position:absolute;left:549.55px;top:782px;width:90px;height:20px;line-height:20px;text-align:center;">D3</div>
<div style="position:absolute;left:598.90px;top:782px;width:90px;height:20px;line-height:20px;text-align:center;">A</div>
<div style="position:absolute;left:643.30px;top:782px;width:90px;height:20px;line-height:20px;text-align:center;">S</div>
<div style="position:absolute;left:20.55px;top:808px;width:90px;height:20px;line-height:20px;text-align:center;">KHP<span style="display:inline-block;width:6.8px;height:1.5px;background:currentColor;vertical-align:3px;margin:0 3.0px 0 4.1px"></span>06</div>
<div style="position:absolute;left:104.50px;top:808px;width:90px;height:20px;line-height:20px;text-align:center;">6</div>
<div style="position:absolute;left:157.00px;top:808px;width:90px;height:20px;line-height:20px;text-align:center;">22</div>
<div style="position:absolute;left:213.35px;top:808px;width:90px;height:20px;line-height:20px;text-align:center;">37.5</div>
<div style="position:absolute;left:269.52px;top:808px;width:90px;height:20px;line-height:20px;text-align:center;">30</div>
<div style="position:absolute;left:325.48px;top:808px;width:90px;height:20px;line-height:20px;text-align:center;">7</div>
<div style="position:absolute;left:381.15px;top:808px;width:90px;height:20px;line-height:20px;text-align:center;">6.6</div>
<div style="position:absolute;left:436.95px;top:808px;width:90px;height:20px;line-height:20px;text-align:center;">11</div>
<div style="position:absolute;left:493.15px;top:808px;width:90px;height:20px;line-height:20px;text-align:center;">6</div>
<div style="position:absolute;left:549.55px;top:808px;width:90px;height:20px;line-height:20px;text-align:center;">11.7</div>
<div style="position:absolute;left:598.90px;top:808px;width:90px;height:20px;line-height:20px;text-align:center;">1.6</div>
<div style="position:absolute;left:643.30px;top:808px;width:90px;height:20px;line-height:20px;text-align:center;">23</div>
<div style="position:absolute;left:710.70px;top:808px;width:90px;height:20px;line-height:20px;text-align:center;">8<span style="font-size:11.5px;margin:0 2.4px 0 2.2px">&times;</span>2</div>
<div style="position:absolute;left:20.55px;top:826px;width:90px;height:20px;line-height:20px;text-align:center;">KHP<span style="display:inline-block;width:6.8px;height:1.5px;background:currentColor;vertical-align:3px;margin:0 3.0px 0 4.1px"></span>10</div>
<div style="position:absolute;left:104.50px;top:826px;width:90px;height:20px;line-height:20px;text-align:center;">9</div>
<div style="position:absolute;left:157.00px;top:826px;width:90px;height:20px;line-height:20px;text-align:center;">30</div>
<div style="position:absolute;left:213.35px;top:826px;width:90px;height:20px;line-height:20px;text-align:center;">58</div>
<div style="position:absolute;left:269.52px;top:826px;width:90px;height:20px;line-height:20px;text-align:center;">45</div>
<div style="position:absolute;left:325.48px;top:826px;width:90px;height:20px;line-height:20px;text-align:center;">8.5</div>
<div style="position:absolute;left:381.15px;top:826px;width:90px;height:20px;line-height:20px;text-align:center;">9</div>
<div style="position:absolute;left:436.95px;top:826px;width:90px;height:20px;line-height:20px;text-align:center;">14</div>
<div style="position:absolute;left:493.15px;top:826px;width:90px;height:20px;line-height:20px;text-align:center;">9.5</div>
<div style="position:absolute;left:549.55px;top:826px;width:90px;height:20px;line-height:20px;text-align:center;">15</div>
<div style="position:absolute;left:598.90px;top:826px;width:90px;height:20px;line-height:20px;text-align:center;">2.0</div>
<div style="position:absolute;left:643.30px;top:826px;width:90px;height:20px;line-height:20px;text-align:center;">36</div>
<div style="position:absolute;left:710.70px;top:826px;width:90px;height:20px;line-height:20px;text-align:center;">10<span style="font-size:11.5px;margin:0 2.4px 0 2.2px">&times;</span>2.6</div>
<div style="position:absolute;left:20.55px;top:845px;width:90px;height:20px;line-height:20px;text-align:center;">KHP<span style="display:inline-block;width:6.8px;height:1.5px;background:currentColor;vertical-align:3px;margin:0 3.0px 0 4.1px"></span>16</div>
<div style="position:absolute;left:104.50px;top:845px;width:90px;height:20px;line-height:20px;text-align:center;">12</div>
<div style="position:absolute;left:157.00px;top:845px;width:90px;height:20px;line-height:20px;text-align:center;">36</div>
<div style="position:absolute;left:213.35px;top:845px;width:90px;height:20px;line-height:20px;text-align:center;">72.5</div>
<div style="position:absolute;left:269.52px;top:845px;width:90px;height:20px;line-height:20px;text-align:center;">55</div>
<div style="position:absolute;left:325.48px;top:845px;width:90px;height:20px;line-height:20px;text-align:center;">11</div>
<div style="position:absolute;left:381.15px;top:845px;width:90px;height:20px;line-height:20px;text-align:center;">9</div>
<div style="position:absolute;left:436.95px;top:845px;width:90px;height:20px;line-height:20px;text-align:center;">14</div>
<div style="position:absolute;left:493.15px;top:845px;width:90px;height:20px;line-height:20px;text-align:center;">16</div>
<div style="position:absolute;left:549.55px;top:845px;width:90px;height:20px;line-height:20px;text-align:center;">25</div>
<div style="position:absolute;left:598.90px;top:845px;width:90px;height:20px;line-height:20px;text-align:center;">2.0</div>
<div style="position:absolute;left:643.30px;top:845px;width:90px;height:20px;line-height:20px;text-align:center;">46</div>
<div style="position:absolute;left:710.70px;top:845px;width:90px;height:20px;line-height:20px;text-align:center;">20.29<span style="font-size:11.5px;margin:0 2.4px 0 2.2px">&times;</span>2.62</div>
<div style="position:absolute;left:20.55px;top:864px;width:90px;height:20px;line-height:20px;text-align:center;">KHP<span style="display:inline-block;width:6.8px;height:1.5px;background:currentColor;vertical-align:3px;margin:0 3.0px 0 4.1px"></span>20</div>
<div style="position:absolute;left:104.50px;top:864px;width:90px;height:20px;line-height:20px;text-align:center;">14</div>
<div style="position:absolute;left:157.00px;top:864px;width:90px;height:20px;line-height:20px;text-align:center;">41</div>
<div style="position:absolute;left:213.35px;top:864px;width:90px;height:20px;line-height:20px;text-align:center;">88.5</div>
<div style="position:absolute;left:269.52px;top:864px;width:90px;height:20px;line-height:20px;text-align:center;">70</div>
<div style="position:absolute;left:325.48px;top:864px;width:90px;height:20px;line-height:20px;text-align:center;">11</div>
<div style="position:absolute;left:381.15px;top:864px;width:90px;height:20px;line-height:20px;text-align:center;">10.5</div>
<div style="position:absolute;left:436.95px;top:864px;width:90px;height:20px;line-height:20px;text-align:center;">16.5</div>
<div style="position:absolute;left:493.15px;top:864px;width:90px;height:20px;line-height:20px;text-align:center;">20</div>
<div style="position:absolute;left:549.55px;top:864px;width:90px;height:20px;line-height:20px;text-align:center;">30</div>
<div style="position:absolute;left:598.90px;top:864px;width:90px;height:20px;line-height:20px;text-align:center;">2.9</div>
<div style="position:absolute;left:643.30px;top:864px;width:90px;height:20px;line-height:20px;text-align:center;">59.5</div>
<div style="position:absolute;left:710.70px;top:864px;width:90px;height:20px;line-height:20px;text-align:center;">23.39<span style="font-size:11.5px;margin:0 2.4px 0 2.2px">&times;</span>3.53</div>
<div style="position:absolute;left:20.55px;top:883px;width:90px;height:20px;line-height:20px;text-align:center;">KHP<span style="display:inline-block;width:6.8px;height:1.5px;background:currentColor;vertical-align:3px;margin:0 3.0px 0 4.1px"></span>25</div>
<div style="position:absolute;left:104.50px;top:883px;width:90px;height:20px;line-height:20px;text-align:center;">14</div>
<div style="position:absolute;left:157.00px;top:883px;width:90px;height:20px;line-height:20px;text-align:center;">50</div>
<div style="position:absolute;left:213.35px;top:883px;width:90px;height:20px;line-height:20px;text-align:center;">97.5</div>
<div style="position:absolute;left:269.52px;top:883px;width:90px;height:20px;line-height:20px;text-align:center;">80</div>
<div style="position:absolute;left:325.48px;top:883px;width:90px;height:20px;line-height:20px;text-align:center;">11</div>
<div style="position:absolute;left:381.15px;top:883px;width:90px;height:20px;line-height:20px;text-align:center;">10.5</div>
<div style="position:absolute;left:436.95px;top:883px;width:90px;height:20px;line-height:20px;text-align:center;">17</div>
<div style="position:absolute;left:493.15px;top:883px;width:90px;height:20px;line-height:20px;text-align:center;">26.5</div>
<div style="position:absolute;left:549.55px;top:883px;width:90px;height:20px;line-height:20px;text-align:center;">35</div>
<div style="position:absolute;left:598.90px;top:883px;width:90px;height:20px;line-height:20px;text-align:center;">2.9</div>
<div style="position:absolute;left:643.30px;top:883px;width:90px;height:20px;line-height:20px;text-align:center;">69</div>
<div style="position:absolute;left:710.70px;top:883px;width:90px;height:20px;line-height:20px;text-align:center;">28.17<span style="font-size:11.5px;margin:0 2.4px 0 2.2px">&times;</span>3.53</div>
<div style="position:absolute;left:20.55px;top:901px;width:90px;height:20px;line-height:20px;text-align:center;">KHP<span style="display:inline-block;width:6.8px;height:1.5px;background:currentColor;vertical-align:3px;margin:0 3.0px 0 4.1px"></span>32</div>
<div style="position:absolute;left:104.50px;top:901px;width:90px;height:20px;line-height:20px;text-align:center;">17</div>
<div style="position:absolute;left:157.00px;top:901px;width:90px;height:20px;line-height:20px;text-align:center;">65</div>
<div style="position:absolute;left:213.35px;top:901px;width:90px;height:20px;line-height:20px;text-align:center;">118.5</div>
<div style="position:absolute;left:269.52px;top:901px;width:90px;height:20px;line-height:20px;text-align:center;">100</div>
<div style="position:absolute;left:325.48px;top:901px;width:90px;height:20px;line-height:20px;text-align:center;">12</div>
<div style="position:absolute;left:381.15px;top:901px;width:90px;height:20px;line-height:20px;text-align:center;">13</div>
<div style="position:absolute;left:436.95px;top:901px;width:90px;height:20px;line-height:20px;text-align:center;">19</div>
<div style="position:absolute;left:493.15px;top:901px;width:90px;height:20px;line-height:20px;text-align:center;">32</div>
<div style="position:absolute;left:549.55px;top:901px;width:90px;height:20px;line-height:20px;text-align:center;">39.4</div>
<div style="position:absolute;left:598.90px;top:901px;width:90px;height:20px;line-height:20px;text-align:center;">2.9</div>
<div style="position:absolute;left:643.30px;top:901px;width:90px;height:20px;line-height:20px;text-align:center;">84</div>
<div style="position:absolute;left:710.70px;top:901px;width:90px;height:20px;line-height:20px;text-align:center;">32.92<span style="font-size:11.5px;margin:0 2.4px 0 2.2px">&times;</span>3.53</div>
<div style="position:absolute;left:20.55px;top:920px;width:90px;height:20px;line-height:20px;text-align:center;">KHP<span style="display:inline-block;width:6.8px;height:1.5px;background:currentColor;vertical-align:3px;margin:0 3.0px 0 4.1px"></span>40</div>
<div style="position:absolute;left:104.50px;top:920px;width:90px;height:20px;line-height:20px;text-align:center;">17</div>
<div style="position:absolute;left:157.00px;top:920px;width:90px;height:20px;line-height:20px;text-align:center;">&ndash;</div>
<div style="position:absolute;left:213.35px;top:920px;width:90px;height:20px;line-height:20px;text-align:center;">118.5</div>
<div style="position:absolute;left:269.52px;top:920px;width:90px;height:20px;line-height:20px;text-align:center;">100</div>
<div style="position:absolute;left:325.48px;top:920px;width:90px;height:20px;line-height:20px;text-align:center;">12</div>
<div style="position:absolute;left:381.15px;top:920px;width:90px;height:20px;line-height:20px;text-align:center;">17.5</div>
<div style="position:absolute;left:436.95px;top:920px;width:90px;height:20px;line-height:20px;text-align:center;">26</div>
<div style="position:absolute;left:493.15px;top:920px;width:90px;height:20px;line-height:20px;text-align:center;">38</div>
<div style="position:absolute;left:549.55px;top:920px;width:90px;height:20px;line-height:20px;text-align:center;">48.4</div>
<div style="position:absolute;left:598.90px;top:920px;width:90px;height:20px;line-height:20px;text-align:center;">2.9</div>
<div style="position:absolute;left:643.30px;top:920px;width:90px;height:20px;line-height:20px;text-align:center;">82.5</div>
<div style="position:absolute;left:710.70px;top:920px;width:90px;height:20px;line-height:20px;text-align:center;">42<span style="font-size:11.5px;margin:0 2.4px 0 2.2px">&times;</span>3.5</div>
<div style="position:absolute;left:20.55px;top:939px;width:90px;height:20px;line-height:20px;text-align:center;">KHP<span style="display:inline-block;width:6.8px;height:1.5px;background:currentColor;vertical-align:3px;margin:0 3.0px 0 4.1px"></span>50</div>
<div style="position:absolute;left:104.50px;top:939px;width:90px;height:20px;line-height:20px;text-align:center;">17</div>
<div style="position:absolute;left:157.00px;top:939px;width:90px;height:20px;line-height:20px;text-align:center;">&ndash;</div>
<div style="position:absolute;left:213.35px;top:939px;width:90px;height:20px;line-height:20px;text-align:center;">129</div>
<div style="position:absolute;left:269.52px;top:939px;width:90px;height:20px;line-height:20px;text-align:center;">110</div>
<div style="position:absolute;left:325.48px;top:939px;width:90px;height:20px;line-height:20px;text-align:center;">12</div>
<div style="position:absolute;left:381.15px;top:939px;width:90px;height:20px;line-height:20px;text-align:center;">22</div>
<div style="position:absolute;left:436.95px;top:939px;width:90px;height:20px;line-height:20px;text-align:center;">33</div>
<div style="position:absolute;left:493.15px;top:939px;width:90px;height:20px;line-height:20px;text-align:center;">48</div>
<div style="position:absolute;left:549.55px;top:939px;width:90px;height:20px;line-height:20px;text-align:center;">55.4</div>
<div style="position:absolute;left:598.90px;top:939px;width:90px;height:20px;line-height:20px;text-align:center;">2.9</div>
<div style="position:absolute;left:643.30px;top:939px;width:90px;height:20px;line-height:20px;text-align:center;">88.5</div>
<div style="position:absolute;left:710.70px;top:939px;width:90px;height:20px;line-height:20px;text-align:center;">49<span style="font-size:11.5px;margin:0 2.4px 0 2.2px">&times;</span>3.5</div>
</div>
<div style="position:absolute;left:-1px;top:573.2px;width:125px;text-align:center;font-size:12px;line-height:14px;white-space:nowrap;-webkit-text-stroke:0.1px #231815"><span style="display:inline-block;transform:scaleX(0.94);transform-origin:center">Model/Nominal diameter</span></div>
<div style="position:absolute;left:-1px;top:792.8px;width:125px;text-align:center;font-size:12px;line-height:14px;white-space:nowrap;-webkit-text-stroke:0.1px #231815"><span style="display:inline-block;transform:scaleX(0.94);transform-origin:center">Model/Nominal diameter</span></div>
<div style="position:absolute;left:1px;top:14.5px;width:84px;height:22.3px;border-radius:5px;background:#0f75c6"></div>
<div style="position:absolute;left:1px;top:511px;width:85px;height:23px;border-radius:5px;background:#0f75c6"></div>
<div style="position:absolute;left:91.5px;top:16px;font-size:16.5px;letter-spacing:1.2px;line-height:22px;white-space:nowrap">Installation Dimensions</div>
<svg style="position:absolute;left:0;top:0" width="300" height="40"><circle cx="292" cy="27.6" r="1.25" fill="#231815"/><circle cx="292" cy="32.7" r="1.25" fill="#231815"/></svg>
<div style="position:absolute;left:95px;top:513px;font-size:17px;letter-spacing:0.93px;line-height:22px;white-space:nowrap">Table of Dimensions</div>
<svg style="position:absolute;left:0;top:0" width="799" height="958" viewBox="0 0 799 958">
<path transform="translate(9 18.4) scale(0.15 0.15)" d="M50 2L52 15 M11 33L11 18L93 18L93 31 M0 50L100 50 M50 32Q38 52 23 68Q62 78 88 96 M73 57Q55 86 7 97" fill="none" stroke="#fff" stroke-width="11.333333333333334" stroke-linecap="square" stroke-linejoin="miter"/>
<path transform="translate(27 18.4) scale(0.15 0.15)" d="M37 0L37 52 M8 8L20 18 M2 40L30 30 M47 18L100 18 M70 0L70 40 M58 45L95 45 M0 60L100 60 M52 52L54 58 M58 62Q48 85 30 100 M2 88L35 78 M54 66Q72 90 100 98 M88 70L72 80" fill="none" stroke="#fff" stroke-width="11.333333333333334" stroke-linecap="square" stroke-linejoin="miter"/>
<path transform="translate(45 18.4) scale(0.15 0.15)" d="M33 4L93 4L93 36L33 36 M33 4L33 50Q30 80 4 98 M52 42Q68 80 98 98" fill="none" stroke="#fff" stroke-width="11.333333333333334" stroke-linecap="square" stroke-linejoin="miter"/>
<path transform="translate(63 18.4) scale(0.15 0.15)" d="M4 28L96 28 M72 2L72 94L58 90 M30 50L42 68" fill="none" stroke="#fff" stroke-width="11.333333333333334" stroke-linecap="square" stroke-linejoin="miter"/>
<path transform="translate(8.5 515.3) scale(0.15 0.145)" d="M33 4L93 4L93 36L33 36 M33 4L33 50Q30 80 4 98 M52 42Q68 80 98 98" fill="none" stroke="#fff" stroke-width="11.333333333333334" stroke-linecap="square" stroke-linejoin="miter"/>
<path transform="translate(36 515.3) scale(0.15 0.145)" d="M4 28L96 28 M72 2L72 94L58 90 M30 50L42 68" fill="none" stroke="#fff" stroke-width="11.333333333333334" stroke-linecap="square" stroke-linejoin="miter"/>
<path transform="translate(64 515.3) scale(0.15 0.145)" d="M7 15L93 15 M13 34L87 34 M0 52L100 52 M50 0L50 52 M38 60L2 86 M44 58Q36 82 28 100 M56 58Q72 86 98 96 M82 64L66 76" fill="none" stroke="#fff" stroke-width="11.333333333333334" stroke-linecap="square" stroke-linejoin="miter"/>
<path transform="translate(31.3 560.3000000000001) scale(0.08800000000000001 0.10300000000000001)" d="M6 12L56 12 M6 32L56 32 M22 12L22 32L12 50 M42 12L42 50 M68 8L68 40 M86 4L86 50L78 46 M18 64L82 64 M50 52L50 92 M6 92L94 92" fill="none" stroke="#231815" stroke-width="11.363636363636363" stroke-linecap="square" stroke-linejoin="miter"/>
<path transform="translate(40.8 560.3000000000001) scale(0.08800000000000001 0.10300000000000001)" d="M26 6L74 6L74 36L26 36Z M8 52L92 52 M36 52L30 70L80 70L74 94L60 88" fill="none" stroke="#231815" stroke-width="11.363636363636363" stroke-linecap="square" stroke-linejoin="miter"/>
<path transform="translate(53.6 560.3000000000001) scale(0.095 0.10300000000000001)" d="M38 8L8 52 M62 8L94 50 M46 44L20 90L80 84 M66 66L86 94" fill="none" stroke="#231815" stroke-width="10.526315789473685" stroke-linecap="square" stroke-linejoin="miter"/>
<path transform="translate(63.2 560.3000000000001) scale(0.095 0.10300000000000001)" d="M10 26L42 26 M26 10L26 96 M26 36L8 72 M28 42L42 56 M40 6L12 14 M60 4L50 32 M54 22L92 22L86 36 M72 34L72 92L62 86 M58 54L48 76 M84 54L94 76" fill="none" stroke="#231815" stroke-width="10.526315789473685" stroke-linecap="square" stroke-linejoin="miter"/>
<path transform="translate(73.4 560.3000000000001) scale(0.095 0.10300000000000001)" d="M46 8L84 8L70 20 M44 26L88 26L88 86 M44 26L44 90 M44 46L88 46 M44 66L88 66 M66 26L66 90 M12 12L22 24 M6 44L22 44L22 74L8 88 M10 88Q30 94 96 92" fill="none" stroke="#231815" stroke-width="10.526315789473685" stroke-linecap="square" stroke-linejoin="miter"/>
<path transform="translate(84.3 560.3000000000001) scale(0.095 0.10300000000000001)" d="M32 4L10 26 M34 30L8 56 M22 44L22 96 M44 10L84 10L48 46 M56 22L94 46 M50 64L88 64 M68 50L68 90 M42 92L96 92" fill="none" stroke="#231815" stroke-width="10.526315789473685" stroke-linecap="square" stroke-linejoin="miter"/>
<path d="M52.2 560.3000000000001L49.2 570.6" stroke="#231815" stroke-width="1.2"/>
<path transform="translate(31.3 779.9) scale(0.08800000000000001 0.10300000000000001)" d="M6 12L56 12 M6 32L56 32 M22 12L22 32L12 50 M42 12L42 50 M68 8L68 40 M86 4L86 50L78 46 M18 64L82 64 M50 52L50 92 M6 92L94 92" fill="none" stroke="#231815" stroke-width="11.363636363636363" stroke-linecap="square" stroke-linejoin="miter"/>
<path transform="translate(40.8 779.9) scale(0.08800000000000001 0.10300000000000001)" d="M26 6L74 6L74 36L26 36Z M8 52L92 52 M36 52L30 70L80 70L74 94L60 88" fill="none" stroke="#231815" stroke-width="11.363636363636363" stroke-linecap="square" stroke-linejoin="miter"/>
<path transform="translate(53.6 779.9) scale(0.095 0.10300000000000001)" d="M38 8L8 52 M62 8L94 50 M46 44L20 90L80 84 M66 66L86 94" fill="none" stroke="#231815" stroke-width="10.526315789473685" stroke-linecap="square" stroke-linejoin="miter"/>
<path transform="translate(63.2 779.9) scale(0.095 0.10300000000000001)" d="M10 26L42 26 M26 10L26 96 M26 36L8 72 M28 42L42 56 M40 6L12 14 M60 4L50 32 M54 22L92 22L86 36 M72 34L72 92L62 86 M58 54L48 76 M84 54L94 76" fill="none" stroke="#231815" stroke-width="10.526315789473685" stroke-linecap="square" stroke-linejoin="miter"/>
<path transform="translate(73.4 779.9) scale(0.095 0.10300000000000001)" d="M46 8L84 8L70 20 M44 26L88 26L88 86 M44 26L44 90 M44 46L88 46 M44 66L88 66 M66 26L66 90 M12 12L22 24 M6 44L22 44L22 74L8 88 M10 88Q30 94 96 92" fill="none" stroke="#231815" stroke-width="10.526315789473685" stroke-linecap="square" stroke-linejoin="miter"/>
<path transform="translate(84.3 779.9) scale(0.095 0.10300000000000001)" d="M32 4L10 26 M34 30L8 56 M22 44L22 96 M44 10L84 10L48 46 M56 22L94 46 M50 64L88 64 M68 50L68 90 M42 92L96 92" fill="none" stroke="#231815" stroke-width="10.526315789473685" stroke-linecap="square" stroke-linejoin="miter"/>
<path d="M52.2 779.9L49.2 790.1999999999999" stroke="#231815" stroke-width="1.2"/>
<path transform="translate(727.2 785.6999999999999) scale(0.113 0.105)" d="M6 20L56 20 M6 54L56 54 M22 20L22 54L8 94 M42 20L42 96 M86 6L60 30 M90 36L58 62 M94 64L56 96" fill="none" stroke="#231815" stroke-width="10.176991150442475" stroke-linecap="square" stroke-linejoin="miter"/>
<path transform="translate(741 785.6999999999999) scale(0.096 0.105)" d="M8 4L92 4L92 96L8 96Z M36 18L64 18L64 34L36 34Z M30 44L70 44L70 68L30 68Z M50 50L50 66 M44 72L30 84 M56 72L72 84" fill="none" stroke="#231815" stroke-width="9.895833333333334" stroke-linecap="square" stroke-linejoin="miter"/>
</svg>
<div style="position:absolute;left:716.5px;top:775.8px;height:32px;line-height:32px;font-size:13.5px;white-space:nowrap"><span style="display:inline-block;transform:scaleX(0.86);transform-origin:left">O</span><span style="display:inline-block;width:23.4px"></span>/O&ndash;ring</div>
</body></html>
